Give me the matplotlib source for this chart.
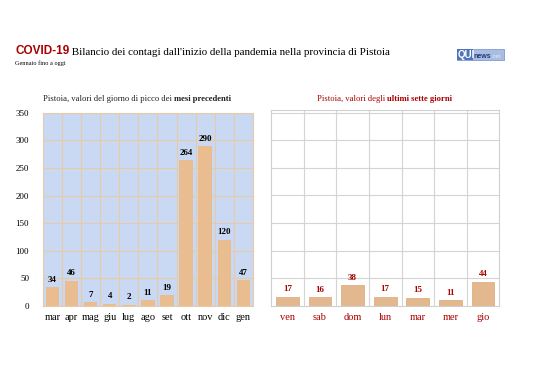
import matplotlib.pyplot as plt
from matplotlib.patches import Rectangle
import numpy as np

# dati
mesi = ['mar', 'apr', 'mag', 'giu', 'lug', 'ago', 'set', 'ott', 'nov', 'dic', 'gen']
picchi = [34, 46, 7, 4, 2, 11, 19, 264, 290, 120, 47]
giorni = ['ven', 'sab', 'dom', 'lun', 'mar', 'mer', 'gio']
ultimi = [17, 16, 38, 17, 15, 11, 44]

SERIF = 'Liberation Serif'
ROSSO = '#a80000'
BARRA = '#e9bd8f'

fig = plt.figure(figsize=(5.38, 3.80), dpi=100)
fig.patch.set_facecolor('white')

# pannello sinistro: mesi precedenti
ax1 = fig.add_axes([0.080, 0.195, 0.390, 0.508])
ax1.set_facecolor('#c9d9f3')
x1 = np.arange(len(mesi))
ax1.bar(x1, picchi, width=0.7, color=BARRA, zorder=3)
ax1.set_xlim(-0.5, len(mesi) - 0.5)
ax1.set_ylim(0, 350)
ax1.set_yticks(np.arange(0, 351, 50))
ax1.set_xticks(x1)
ax1.set_xticklabels(mesi, fontfamily=SERIF, fontsize=7.5)
for lab in ax1.get_yticklabels():
    lab.set_fontfamily(SERIF)
    lab.set_fontsize(6.5)
ax1.tick_params(axis='x', length=0, pad=5)
ax1.tick_params(axis='y', length=0, pad=10)
for y in range(50, 351, 50):
    ax1.axhline(y, color='#e8c9a8', lw=0.8, zorder=1)
for xv in np.arange(0.5, len(mesi) - 0.5, 1):
    ax1.axvline(xv, color='#e8c9a8', lw=0.8, zorder=1)
for s in ax1.spines.values():
    s.set_color('#e8c9a8')
for xi, v in zip(x1, picchi):
    ax1.text(xi, v + 6, str(v), ha='center', va='bottom', fontfamily=SERIF,
             fontsize=6.5, fontweight='bold', color='black', zorder=4)

# pannello destro: ultimi sette giorni
ax2 = fig.add_axes([0.504, 0.195, 0.424, 0.516])
ax2.set_facecolor('white')
x2 = np.arange(len(giorni))
ax2.bar(x2, ultimi, width=0.7, color='#e3b88e', edgecolor='#d9a878', lw=0.5, zorder=3)
ax2.set_xlim(-0.5, len(giorni) - 0.5)
ax2.set_ylim(0, 355)
ax2.set_yticks([])
ax2.set_xticks(x2)
ax2.set_xticklabels(giorni, fontfamily=SERIF, fontsize=7.5, color=ROSSO)
ax2.tick_params(length=0, pad=5)
for y in range(50, 351, 50):
    ax2.axhline(y, color='#d4d4d4', lw=0.8, zorder=1)
for xv in np.arange(0.5, len(giorni) - 0.5, 1):
    ax2.axvline(xv, color='#d4d4d4', lw=0.8, zorder=1)
for s in ax2.spines.values():
    s.set_color('#d0d0d0')
for xi, v in zip(x2, ultimi):
    ax2.text(xi, v + 6, str(v), ha='center', va='bottom', fontfamily=SERIF,
             fontsize=6.5, fontweight='bold', color=ROSSO, zorder=4)

# titolo principale
t1 = fig.text(15 / 538, 1 - 54 / 380, 'COVID-19', fontfamily='Liberation Sans',
              fontweight='bold', fontsize=8.5, color=ROSSO, va='baseline')
ax1.annotate(' Bilancio dei contagi dall\'inizio della pandemia nella provincia di Pistoia',
             xy=(1, 0), xycoords=t1, va='bottom', ha='left',
             fontfamily=SERIF, fontsize=7.9, color='black', annotation_clip=False)
fig.text(15 / 538, 1 - 65 / 380, 'Gennaio fino a oggi', fontfamily=SERIF,
         fontsize=4.5, color='black', va='baseline')

# logo
fig.add_artist(Rectangle((457 / 538, 1 - 60 / 380), 47 / 538, 11 / 380,
                         transform=fig.transFigure, fc='#a9bde3', ec='#7f9bd0', lw=0.6))
fig.add_artist(Rectangle((457 / 538, 1 - 60 / 380), 16 / 538, 11 / 380,
                         transform=fig.transFigure, fc='#4d73bd', ec='none'))
fig.text(458 / 538, 1 - 58 / 380, 'QUI', fontfamily='Liberation Sans', fontweight='bold',
         fontsize=7, color='white', va='baseline')
fig.text(474 / 538, 1 - 57.5 / 380, 'news', fontfamily='Liberation Sans', fontweight='bold',
         fontsize=5, color='#1f3a73', va='baseline')
fig.text(492 / 538, 1 - 57.5 / 380, '.net', fontfamily='Liberation Sans',
         fontsize=4, color='#e8eef8', va='baseline')

# titoli dei pannelli
p1 = fig.text(43 / 538, 1 - 101 / 380, 'Pistoia, valori del giorno di picco dei ',
              fontfamily=SERIF, fontsize=6.2, color='#222222', va='baseline')
ax1.annotate('mesi precedenti', xy=(1, 0), xycoords=p1, va='bottom', ha='left',
             fontfamily=SERIF, fontsize=6.2, fontweight='bold', color='#222222',
             annotation_clip=False)
p2 = fig.text(317 / 538, 1 - 101 / 380, 'Pistoia, valori degli ',
              fontfamily=SERIF, fontsize=6.2, color=ROSSO, va='baseline')
ax1.annotate('ultimi sette giorni', xy=(1, 0), xycoords=p2, va='bottom', ha='left',
             fontfamily=SERIF, fontsize=6.2, fontweight='bold', color=ROSSO,
             annotation_clip=False)

fig.savefig('out.png', dpi=100)
